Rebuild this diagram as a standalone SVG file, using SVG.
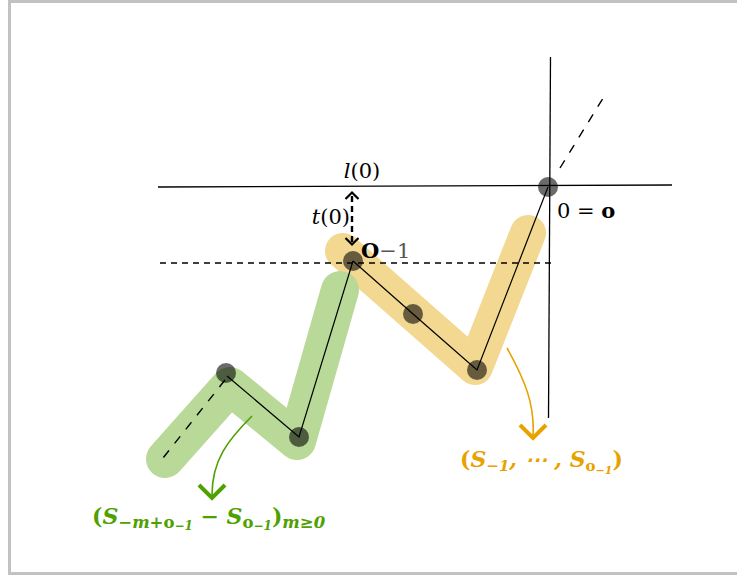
<svg xmlns="http://www.w3.org/2000/svg" width="737" height="579" viewBox="0 0 737 579">
<style>
.ax{stroke:#000;stroke-width:1.3;fill:none}
.thin{stroke:#000;stroke-width:1.2;fill:none}
.dash{stroke:#000;stroke-width:1.4;fill:none;stroke-dasharray:9 9}
.dot{fill:#000;fill-opacity:0.58}
.m{font-family:"DejaVu Serif","Liberation Serif",serif;font-size:21px;fill:#000}
.lab{font-family:"DejaVu Serif","Liberation Serif",serif;font-size:22px;font-weight:bold;font-style:italic}
</style>
<rect x="9.5" y="1.5" width="740" height="572" fill="#fff" stroke="#c2c2c2" stroke-width="3"/>
<g id="blobs">
<polyline points="343,251 475,367 528,233" fill="none" stroke="#f3d892" stroke-width="36" stroke-linecap="round" stroke-linejoin="round"/>
<polyline points="165,459 230,386 297,441 340,290" fill="none" stroke="#b8d997" stroke-width="38" stroke-linecap="round" stroke-linejoin="round"/>
</g>
<g id="connectors">
<line class="ax" x1="158" y1="187" x2="672" y2="185"/>
<line class="ax" x1="550.5" y1="57" x2="548.5" y2="418"/>
<line class="dash" x1="560" y1="168" x2="605" y2="95"/>
<line x1="160" y1="263" x2="552" y2="263" stroke="#000" stroke-width="1.3" stroke-dasharray="6 5"/>
<polyline class="thin" points="353,261 413,314 477,370 548,187"/>
<polyline class="thin" points="353,261 299,437 227,376"/>
<line class="dash" x1="225" y1="380" x2="163" y2="458"/>
<line x1="352" y1="196" x2="352" y2="242" stroke="#000" stroke-width="2.4" stroke-dasharray="6 4"/>
<polyline points="345.5,199 352,192.5 358.5,199" fill="none" stroke="#000" stroke-width="2.2"/>
<polyline points="345.5,238 352,244.5 358.5,238" fill="none" stroke="#000" stroke-width="2.2"/>
<path d="M507,348 C525,380 535,405 533,436" fill="none" stroke="#e8a200" stroke-width="1.6"/>
<polyline points="520,425 533,438 546,425" fill="none" stroke="#e8a200" stroke-width="4"/>
<path d="M252,416 C228,440 212,460 212,495" fill="none" stroke="#4ea100" stroke-width="1.6"/>
<polyline points="199,485 212,498 225,485" fill="none" stroke="#4ea100" stroke-width="4"/>
</g>
<g id="node-origin"><circle class="dot" cx="548" cy="187" r="10"/></g>
<g id="node-o1"><circle class="dot" cx="353" cy="261" r="10"/></g>
<g id="node-y2"><circle class="dot" cx="413" cy="314" r="10"/></g>
<g id="node-y3"><circle class="dot" cx="477" cy="370" r="10"/></g>
<g id="node-g1"><circle class="dot" cx="299" cy="437" r="10"/></g>
<g id="node-g2"><circle class="dot" cx="226" cy="373" r="10"/></g>
<g id="labels">
<text class="m" x="362" y="178" text-anchor="middle" font-style="italic">l<tspan font-style="normal">(0)</tspan></text>
<text class="m" x="350" y="224" text-anchor="end" font-style="italic">t<tspan font-style="normal">(0)</tspan></text>
<text class="m" x="361" y="258"><tspan font-weight="bold">O</tspan><tspan fill="#555">−1</tspan></text>
<text class="m" x="557" y="218">0 = <tspan font-weight="bold">o</tspan></text>
<text class="lab" x="460" y="467" fill="#e8a200"><tspan font-style="normal">(</tspan>S<tspan font-size="15" dy="4">−1</tspan><tspan dy="-4">, ⋯ ,</tspan> S<tspan font-size="15" dy="4" font-style="normal">o</tspan><tspan font-size="11" dy="3">−1</tspan><tspan font-style="normal" dy="-7">)</tspan></text>
<text class="lab" x="92" y="524" fill="#4ea100"><tspan font-style="normal">(</tspan>S<tspan font-size="16.5" dy="4">−m+<tspan font-style="normal">o</tspan></tspan><tspan font-size="12" dy="2">−1</tspan><tspan dy="-6" font-style="normal"> − </tspan>S<tspan font-size="16.5" dy="4" font-style="normal">o</tspan><tspan font-size="12" dy="2">−1</tspan><tspan font-style="normal" dy="-6">)</tspan><tspan font-size="16.5" dy="4">m≥0</tspan></text>
</g>
</svg>
